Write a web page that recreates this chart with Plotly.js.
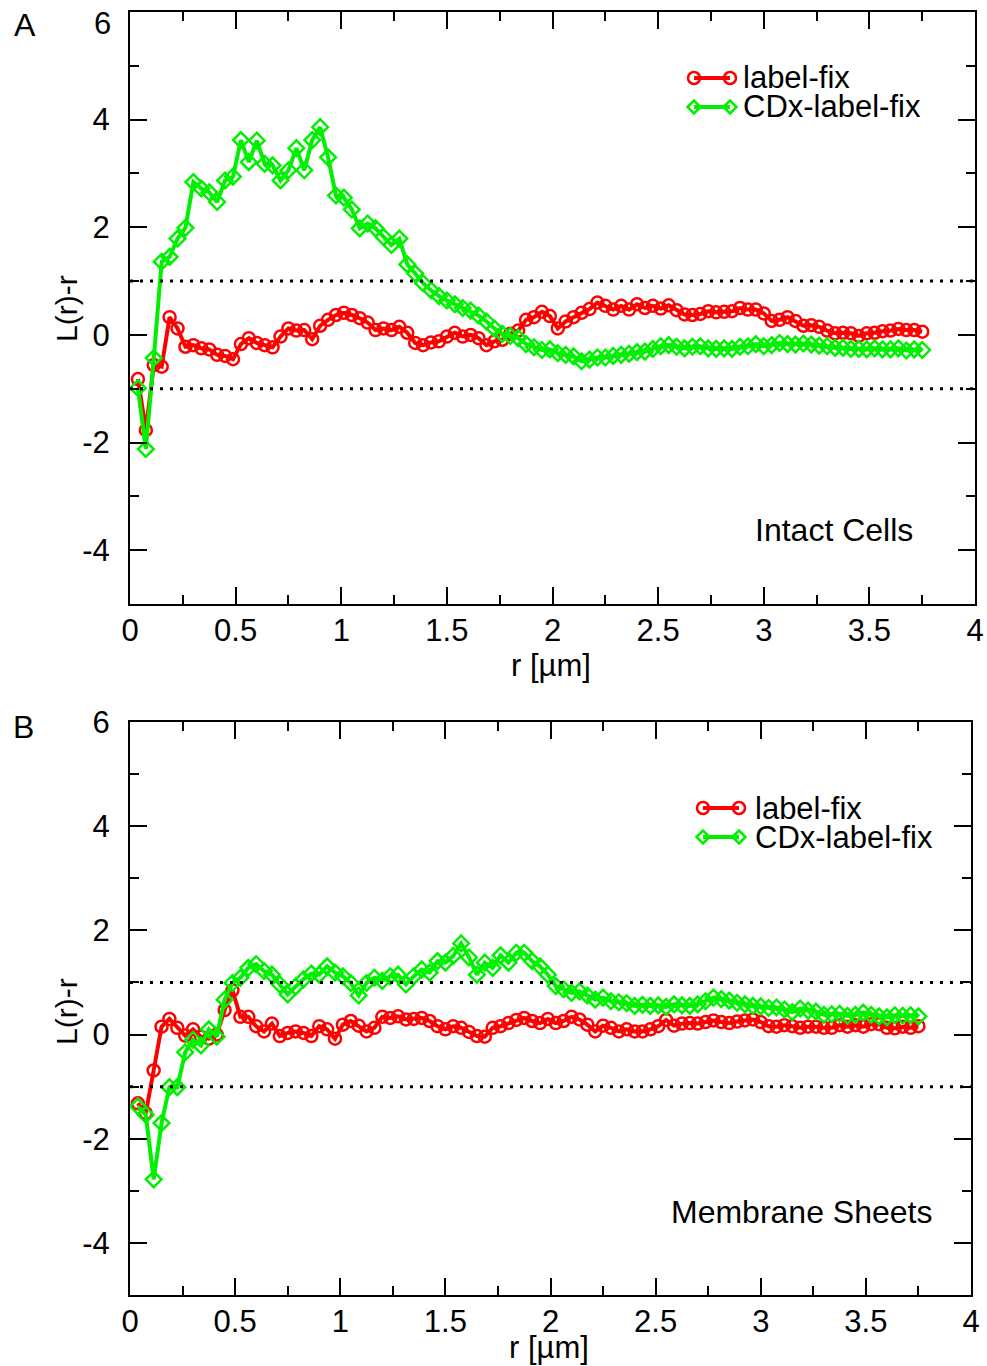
<!DOCTYPE html>
<html>
<head>
<meta charset="utf-8">
<script src="https://cdn.plot.ly/plotly-3.0.1.min.js"></script>
<style>html,body{margin:0;padding:0;background:#fff;}#chart{width:987px;height:1366px;}</style>
</head>
<body>
<div id="chart"></div>
<script>
// radius values (µm)
const r = [0.0375,0.075,0.1125,0.15,0.1875,0.225,0.2625,0.3,0.3375,0.375,
0.4125,0.45,0.4875,0.525,0.5625,0.6,0.6375,0.675,0.7125,0.75,
0.7875,0.825,0.8625,0.9,0.9375,0.975,1.0125,1.05,1.0875,1.125,
1.1625,1.2,1.2375,1.275,1.3125,1.35,1.3875,1.425,1.4625,1.5,
1.5375,1.575,1.6125,1.65,1.6875,1.725,1.7625,1.8,1.8375,1.875,
1.9125,1.95,1.9875,2.025,2.0625,2.1,2.1375,2.175,2.2125,2.25,
2.2875,2.325,2.3625,2.4,2.4375,2.475,2.5125,2.55,2.5875,2.625,
2.6625,2.7,2.7375,2.775,2.8125,2.85,2.8875,2.925,2.9625,3.0,
3.0375,3.075,3.1125,3.15,3.1875,3.225,3.2625,3.3,3.3375,3.375,
3.4125,3.45,3.4875,3.525,3.5625,3.6,3.6375,3.675,3.7125,3.75];

// Panel A: Intact Cells
const labelFixA = [-0.82,-1.77,-0.56,-0.59,0.33,0.12,-0.22,-0.19,-0.25,-0.27,
-0.37,-0.39,-0.45,-0.17,-0.06,-0.15,-0.19,-0.23,-0.03,0.12,
0.08,0.09,-0.08,0.17,0.28,0.37,0.41,0.37,0.31,0.23,
0.09,0.12,0.09,0.15,0.04,-0.15,-0.19,-0.14,-0.12,-0.03,
0.04,-0.03,0.0,-0.06,-0.19,-0.12,-0.09,0.02,0.08,0.28,
0.33,0.43,0.35,0.12,0.25,0.33,0.41,0.48,0.60,0.54,
0.47,0.54,0.47,0.57,0.50,0.54,0.49,0.55,0.46,0.38,
0.37,0.39,0.44,0.42,0.43,0.44,0.50,0.47,0.47,0.40,
0.26,0.28,0.33,0.26,0.17,0.18,0.15,0.08,0.03,0.04,
0.03,-0.02,0.03,0.04,0.07,0.08,0.11,0.09,0.09,0.06];
const cdxLabelFixA = [-0.99,-2.12,-0.43,1.36,1.45,1.79,1.99,2.84,2.72,2.65,
2.47,2.87,2.94,3.62,3.21,3.61,3.18,3.15,2.87,3.06,
3.47,3.06,3.62,3.86,3.30,2.59,2.55,2.33,1.98,2.07,
1.98,1.82,1.67,1.79,1.31,1.14,0.96,0.83,0.72,0.64,
0.57,0.50,0.45,0.36,0.25,0.12,0.02,-0.02,-0.06,-0.17,
-0.23,-0.28,-0.27,-0.34,-0.37,-0.40,-0.49,-0.46,-0.42,-0.42,
-0.39,-0.37,-0.35,-0.32,-0.31,-0.26,-0.21,-0.19,-0.22,-0.25,
-0.22,-0.21,-0.25,-0.26,-0.25,-0.26,-0.22,-0.21,-0.17,-0.21,
-0.19,-0.15,-0.17,-0.18,-0.16,-0.18,-0.20,-0.21,-0.24,-0.24,
-0.26,-0.26,-0.27,-0.25,-0.27,-0.27,-0.25,-0.29,-0.27,-0.28];

// Panel B: Membrane Sheets
const labelFixB = [-1.32,-1.51,-0.69,0.15,0.30,0.13,-0.02,0.10,-0.04,-0.08,
0.0,0.47,0.85,0.34,0.34,0.16,0.06,0.21,-0.03,0.03,
0.06,0.03,-0.03,0.16,0.10,-0.08,0.19,0.26,0.17,0.06,
0.13,0.34,0.32,0.35,0.29,0.30,0.32,0.26,0.16,0.10,
0.16,0.13,0.05,-0.03,-0.04,0.13,0.16,0.22,0.28,0.32,
0.26,0.22,0.30,0.22,0.26,0.34,0.29,0.19,0.06,0.17,
0.13,0.06,0.10,0.06,0.06,0.10,0.16,0.28,0.17,0.21,
0.22,0.21,0.24,0.27,0.24,0.22,0.25,0.27,0.29,0.24,
0.16,0.15,0.18,0.16,0.13,0.15,0.15,0.13,0.13,0.18,
0.15,0.18,0.15,0.20,0.20,0.13,0.12,0.15,0.13,0.16];
const cdxLabelFixB = [-1.38,-1.54,-2.78,-1.70,-1.01,-1.01,-0.34,-0.10,-0.21,0.10,
-0.04,0.67,0.99,1.09,1.28,1.35,1.22,1.15,0.96,0.77,
0.92,1.06,1.17,1.15,1.31,1.19,1.12,0.99,0.75,0.99,
1.09,1.03,1.12,1.15,0.96,1.12,1.25,1.19,1.41,1.38,
1.51,1.75,1.48,1.15,1.38,1.28,1.52,1.38,1.57,1.57,
1.41,1.31,1.15,0.93,0.87,0.80,0.83,0.75,0.67,0.71,
0.64,0.62,0.60,0.55,0.57,0.55,0.56,0.53,0.58,0.56,
0.55,0.58,0.64,0.71,0.68,0.65,0.61,0.58,0.55,0.54,
0.51,0.52,0.48,0.43,0.50,0.46,0.44,0.38,0.39,0.40,
0.36,0.38,0.42,0.38,0.35,0.33,0.37,0.36,0.37,0.35];

const seriesNames = ['label-fix', 'CDx-label-fix'];
const panelTitles = ['Intact Cells', 'Membrane Sheets'];
const panelLetters = ['A', 'B'];
const xTitle = 'r [µm]';
const yTitle = 'L(r)-r';
const refLevels = [1, -1];
const yTickVals = [-4, -2, 0, 2, 4, 6];
const yTickTextA = ['-4', '-2', '0', '2', '4', ''];   // top "6" of panel A drawn as text below the frame edge
const yTickTextB = ['-4', '-2', '0', '2', '4', '6'];

const W = 987, H = 1366;
const px = v => v / W;
const py = v => 1 - v / H;
const RED = '#ff0000', GREEN = '#00f000';
const FONT = 'Liberation Sans, Arial, Helvetica, sans-serif';

function redTrace(y, xa, ya) {
  return {x: r, y: y, xaxis: xa, yaxis: ya, type: 'scatter', mode: 'lines+markers',
    name: seriesNames[0], showlegend: false,
    line: {color: RED, width: 4},
    marker: {symbol: 'circle-open', size: 12, color: RED, line: {width: 2.5, color: RED}}};
}
function greenTrace(y, xa, ya) {
  return {x: r, y: y, xaxis: xa, yaxis: ya, type: 'scatter', mode: 'lines+markers',
    name: seriesNames[1], showlegend: false,
    line: {color: GREEN, width: 4},
    marker: {symbol: 'diamond-open', size: 12, color: GREEN, line: {width: 2.5, color: GREEN}}};
}

const data = [
  redTrace(labelFixA, 'x', 'y'), greenTrace(cdxLabelFixA, 'x', 'y'),
  redTrace(labelFixB, 'x2', 'y2'), greenTrace(cdxLabelFixB, 'x2', 'y2')
];

function xAxis(dom, anchor) {
  return {domain: dom, anchor: anchor, range: [0, 4], tick0: 0, dtick: 0.5,
    ticks: 'inside', ticklen: 17, tickwidth: 2, tickcolor: '#000',
    showline: true, linewidth: 2, linecolor: '#000', mirror: 'allticks',
    showgrid: false, zeroline: false, ticklabelstandoff: -2,
    minor: {dtick: 0.25, ticks: 'inside', ticklen: 9, tickwidth: 2, tickcolor: '#000', showgrid: false},
    tickfont: {family: FONT, size: 31, color: '#000'}};
}
function yAxis(dom, anchor, tt) {
  return {domain: dom, anchor: anchor, range: [-5, 6],
    tickmode: 'array', tickvals: yTickVals, ticktext: tt,
    ticks: 'inside', ticklen: 17, tickwidth: 2, tickcolor: '#000',
    showline: true, linewidth: 2, linecolor: '#000', mirror: 'allticks',
    showgrid: false, zeroline: false, ticklabelstandoff: 12,
    minor: {tickmode: 'linear', tick0: 0, dtick: 1, ticks: 'inside', ticklen: 9, tickwidth: 2, tickcolor: '#000', showgrid: false},
    tickfont: {family: FONT, size: 31, color: '#000'}};
}

const shapes = [];
[['x', 'y'], ['x2', 'y2']].forEach(([xa, ya]) => {
  refLevels.forEach(lv => {
    shapes.push({type: 'line', xref: xa + ' domain', x0: 0, x1: 1, yref: ya, y0: lv, y1: lv,
      line: {color: '#000', width: 3, dash: '3px,7px'}});
  });
});

const annotations = [];
function txt(x, y, s, anchor, size, angle) {
  annotations.push({xref: 'paper', yref: 'paper', x: px(x), y: py(y), xanchor: anchor, yanchor: 'middle',
    text: s, showarrow: false, textangle: angle || 0, font: {family: FONT, size: size, color: '#000'}});
}
// custom legend keys (symbols at both ends of the line)
function legendRow(x0, x1, y, color, symbol, text, tx) {
  shapes.push({type: 'line', xref: 'paper', yref: 'paper', x0: px(x0), x1: px(x1), y0: py(y), y1: py(y),
    line: {color: color, width: 4}});
  [x0, x1].forEach(cx => {
    if (symbol === 'circle') {
      shapes.push({type: 'circle', xref: 'paper', yref: 'paper', xsizemode: 'pixel', ysizemode: 'pixel',
        xanchor: px(cx), yanchor: py(y), x0: -6, x1: 6, y0: -6, y1: 6,
        fillcolor: 'rgba(0,0,0,0)', line: {color: color, width: 2.5}});
    } else {
      shapes.push({type: 'path', xref: 'paper', yref: 'paper', xsizemode: 'pixel', ysizemode: 'pixel',
        xanchor: px(cx), yanchor: py(y), path: 'M -6.5 0 L 0 6.5 L 6.5 0 L 0 -6.5 Z',
        fillcolor: 'rgba(0,0,0,0)', line: {color: color, width: 2.5}});
    }
  });
  txt(tx, y, text, 'left', 31);
}
legendRow(694, 730, 78, RED, 'circle', seriesNames[0], 741);
legendRow(694, 730, 107, GREEN, 'diamond', seriesNames[1], 741);
legendRow(703, 739, 808, RED, 'circle', seriesNames[0], 753);
legendRow(703, 739, 837, GREEN, 'diamond', seriesNames[1], 753);

txt(915, 530, panelTitles[0], 'right', 32);
txt(934, 1212, panelTitles[1], 'right', 32);
txt(25, 25, panelLetters[0], 'center', 32);
txt(23, 727, panelLetters[1], 'center', 32);
txt(113, 23, yTickVals[5].toString(), 'right', 31);
txt(551, 665, xTitle, 'center', 31);
txt(549, 1347, xTitle, 'center', 31);
txt(66, 309, yTitle, 'center', 30, -90);
txt(66, 1012, yTitle, 'center', 30, -90);

const layout = {
  width: W, height: H,
  margin: {l: 0, r: 0, t: 0, b: 0},
  paper_bgcolor: '#fff', plot_bgcolor: '#fff',
  showlegend: false,
  font: {family: FONT, color: '#000'},
  xaxis: xAxis([px(130), px(975)], 'y'),
  yaxis: yAxis([py(604), py(12)], 'x', yTickTextA),
  xaxis2: xAxis([px(130), px(971)], 'y2'),
  yaxis2: yAxis([py(1295), py(722)], 'x2', yTickTextB),
  shapes: shapes,
  annotations: annotations
};

Plotly.newPlot('chart', data, layout, {displayModeBar: false, staticPlot: true});
</script>
</body>
</html>
